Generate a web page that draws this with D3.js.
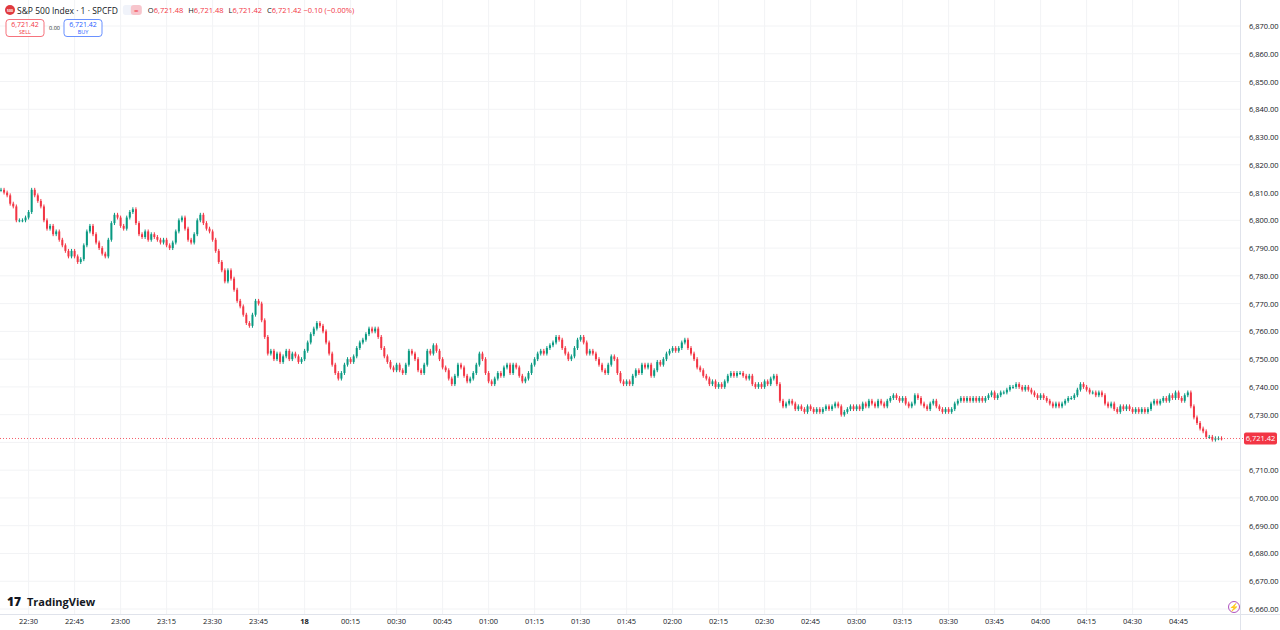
<!DOCTYPE html>
<html><head><meta charset="utf-8">
<script src="https://cdn.jsdelivr.net/npm/d3@7"></script>
<style>
body{margin:0;background:#fff;font-family:"Open Sans","Noto Sans",sans-serif;}
svg text{font-family:"Open Sans","Noto Sans",sans-serif;}
</style></head><body>
<svg id="c" width="1280" height="630"></svg>
<script>
// closes, one per minute starting 22:21
var startTime = "22:21";
var closes = [
 6811,6810,6809,6806,6805,6800,6800,6800,6801,
 6803,6811,6809,6807,6805,6800,6797,6798,6795,6796,6793,6791,6789,6787,6789,
 6787,6785,6786,6791,6796,6798,6795,6792,6790,6788,6787,6793,6799,6802,6801,
 6798,6797,6801,6803,6804,6799,6795,6794,6796,6793,6795,6794,6793,6792,6793,
 6791,6790,6792,6796,6800,6801,6797,6793,6792,6795,6800,6802,6799,6797,6796,
 6793,6789,6785,6782,6778,6782,6779,6775,6771,6769,6766,6763,6762,6766,6771,
 6770,6764,6758,6752,6753,6750,6752,6749,6751,6753,6750,6752,6751,6749,6750,
 6753,6756,6759,6761,6763,6762,6760,6756,6752,6748,6745,6743,6745,6748,6750,
 6749,6751,6754,6756,6757,6759,6761,6760,6761,6758,6754,6751,6749,6747,6746,
 6748,6746,6745,6748,6753,6752,6750,6746,6745,6748,6753,6752,6755,6753,6750,
 6747,6746,6743,6741,6744,6748,6747,6744,6742,6743,6745,6748,6752,6750,6745,
 6742,6741,6743,6745,6744,6747,6748,6745,6748,6747,6744,6742,6743,6745,6748,
 6750,6752,6753,6752,6754,6755,6756,6758,6757,6754,6752,6750,6751,6754,6757,
 6758,6756,6752,6753,6752,6750,6748,6746,6745,6748,6751,6750,6745,6742,6741,
 6742,6741,6744,6746,6745,6748,6747,6748,6744,6746,6749,6748,6750,6752,6753,
 6754,6753,6754,6756,6757,6754,6752,6750,6747,6746,6744,6743,6741,6742,6740,
 6741,6740,6742,6744,6745,6744,6745,6745,6744,6743,6744,6741,6740,6741,6740,
 6742,6741,6743,6744,6741,6735,6733,6734,6735,6734,6732,6733,6732,6731,6733,
 6732,6731,6732,6731,6732,6733,6732,6733,6734,6733,6730,6731,6732,6733,6732,
 6733,6732,6734,6733,6735,6734,6733,6735,6734,6733,6735,6736,6737,6736,6735,
 6736,6734,6733,6734,6737,6736,6734,6733,6732,6734,6735,6733,6732,6731,6732,
 6731,6732,6734,6735,6736,6735,6736,6735,6736,6735,6736,6735,6736,6737,6738,
 6736,6737,6738,6738,6739,6740,6740,6741,6740,6739,6740,6739,6738,6737,6736,
 6737,6736,6735,6734,6733,6734,6733,6734,6735,6736,6736,6737,6739,6741,6740,
 6739,6738,6738,6737,6738,6737,6734,6733,6734,6732,6731,6733,6732,6733,6732,
 6731,6732,6731,6732,6731,6732,6734,6735,6734,6735,6736,6735,6737,6736,6738,
 6736,6735,6737,6738,6733,6729,6727,6725,6724,6722,6722,6721,6721.5,6721.5,6721.42
];
var priceTicks = [6660,6670,6680,6690,6700,6710,6720,6730,6740,6750,6760,6770,6780,6790,6800,6810,6820,6830,6840,6850,6860,6870];
var timeLabels = ["22:30","22:45","23:00","23:15","23:30","23:45","18","00:15","00:30","00:45","01:00","01:15","01:30","01:45","02:00","02:15","02:30","02:45","03:00","03:15","03:30","03:45","04:00","04:15","04:30","04:45"];
var lastPrice = 6721.42;

var up = "#089981", down = "#f23645";
var svg = d3.select("#c");
var plotW = 1240, plotH = 614;

var x = d3.scaleLinear().domain([0, 9]).range([1, 28.6]);
var y = d3.scaleLinear().domain([6660, 6870]).range([609, 26]);

// grid
svg.append("g").selectAll("line").data(priceTicks).join("line")
  .attr("x1", 0).attr("x2", plotW).attr("y1", d => y(d)).attr("y2", d => y(d))
  .attr("stroke", "#f2f3f5");
svg.append("g").selectAll("line").data(timeLabels).join("line")
  .attr("x1", (d, i) => x(9 + i * 15)).attr("x2", (d, i) => x(9 + i * 15))
  .attr("y1", 0).attr("y2", plotH).attr("stroke", "#f2f3f5");

// candles
var candles = closes.map(function(c, i) {
  var o = i === 0 ? c : closes[i - 1];
  return {i: i, o: o, c: c, h: Math.max(o, c) + 0.7, l: Math.min(o, c) - 0.7};
});
var g = svg.append("g");
g.selectAll("line").data(candles).join("line")
  .attr("x1", d => x(d.i)).attr("x2", d => x(d.i))
  .attr("y1", d => y(d.h)).attr("y2", d => y(d.l))
  .attr("stroke", d => d.c >= d.o ? up : down).attr("stroke-width", 1);
g.selectAll("rect").data(candles).join("rect")
  .attr("x", d => x(d.i) - 1).attr("width", 2)
  .attr("y", d => y(Math.max(d.o, d.c)))
  .attr("height", d => Math.max(1, Math.abs(y(d.o) - y(d.c))))
  .attr("fill", d => d.c >= d.o ? up : down);

// last price line
svg.append("line").attr("x1", 0).attr("x2", 1244).attr("y1", y(lastPrice)).attr("y2", y(lastPrice))
  .attr("stroke", down).attr("stroke-dasharray", "1,2").attr("stroke-width", 0.8);

// right axis
svg.append("line").attr("x1", 1240.5).attr("x2", 1240.5).attr("y1", 0).attr("y2", 630).attr("stroke", "#e0e3eb");
svg.append("g").selectAll("text").data(priceTicks.filter(d => Math.abs(y(d) - y(lastPrice)) > 9)).join("text")
  .attr("x", 1249).attr("y", d => y(d) + 3).attr("font-size", 7.5).attr("fill", "#131722")
  .text(d => d3.format(",.2f")(d));
svg.append("rect").attr("x", 1244).attr("y", y(lastPrice) - 6).attr("width", 33).attr("height", 12)
  .attr("rx", 2).attr("fill", down);
svg.append("text").attr("x", 1260.5).attr("y", y(lastPrice) + 3).attr("text-anchor", "middle")
  .attr("font-size", 7.5).attr("fill", "#fff").text(d3.format(",.2f")(lastPrice));

// bottom axis
svg.append("line").attr("x1", 0).attr("x2", 1280).attr("y1", 614.5).attr("y2", 614.5).attr("stroke", "#e0e3eb");
svg.append("g").selectAll("text").data(timeLabels).join("text")
  .attr("x", (d, i) => x(9 + i * 15)).attr("y", 624).attr("text-anchor", "middle")
  .attr("font-size", 7.5).attr("fill", "#131722").attr("font-weight", d => d === "18" ? 700 : 400)
  .text(d => d);

// header
svg.append("circle").attr("cx", 10).attr("cy", 10).attr("r", 5).attr("fill", "#e0393e");
svg.append("text").attr("x", 10).attr("y", 11.5).attr("text-anchor", "middle").attr("font-size", 3.5).attr("fill", "#fff").attr("font-weight", 700).text("500");
var title = svg.append("text").attr("x", 17).attr("y", 13.5).attr("font-size", 8.5).attr("fill", "#131722").text("S&P 500 Index · 1 · SPCFD");
var bx0 = 17 + title.node().getComputedTextLength() + 5;
svg.append("rect").attr("x", bx0).attr("y", 5).attr("width", 18).attr("height", 10).attr("rx", 3).attr("fill", "#f0f3fa");
svg.append("rect").attr("x", bx0 + 8).attr("y", 5).attr("width", 11).attr("height", 10).attr("rx", 3).attr("fill", "#f7c5cc");
svg.append("text").attr("x", bx0 + 13.5).attr("y", 12.5).attr("text-anchor", "middle").attr("font-size", 8).attr("fill", down).text("=");
var ohlc = [["O", "6,721.48"], ["H", "6,721.48"], ["L", "6,721.42"], ["C", "6,721.42 \u22120.10 (\u22120.00%)"]];
var hx = bx0 + 25;
ohlc.forEach(function(p) {
  var t = svg.append("text").attr("x", hx).attr("y", 13).attr("font-size", 7.5);
  t.append("tspan").attr("fill", "#131722").text(p[0]);
  t.append("tspan").attr("fill", down).text(p[1]);
  hx += t.node().getComputedTextLength() + 5;
});
function box(bx, col, label) {
  svg.append("rect").attr("x", bx).attr("y", 19.5).attr("width", 38).attr("height", 17).attr("rx", 3)
    .attr("fill", "#fff").attr("stroke", col).attr("stroke-width", 0.7);
  svg.append("text").attr("x", bx + 19).attr("y", 27).attr("text-anchor", "middle").attr("font-size", 7).attr("fill", col).text("6,721.42");
  svg.append("text").attr("x", bx + 19).attr("y", 34).attr("text-anchor", "middle").attr("font-size", 5.5).attr("fill", col).text(label);
}
box(6, down, "SELL");
box(64, "#2962ff", "BUY");
svg.append("text").attr("x", 54.5).attr("y", 30).attr("text-anchor", "middle").attr("font-size", 5.5).attr("fill", "#131722").text("0.00");

// logo
svg.append("text").attr("x", 7).attr("y", 606).attr("font-size", 12).attr("font-weight", 800).attr("fill", "#131722").text("17");
svg.append("text").attr("x", 27).attr("y", 606).attr("font-size", 11).attr("font-weight", 700).attr("fill", "#131722").text("TradingView");
svg.append("circle").attr("cx", 1234).attr("cy", 607).attr("r", 5.5).attr("fill", "none").attr("stroke", "#9c27b0").attr("stroke-width", 0.8);
svg.append("text").attr("x", 1234).attr("y", 610).attr("text-anchor", "middle").attr("font-size", 8).attr("fill", "#9c27b0").text("\u26A1");
</script></body></html>
